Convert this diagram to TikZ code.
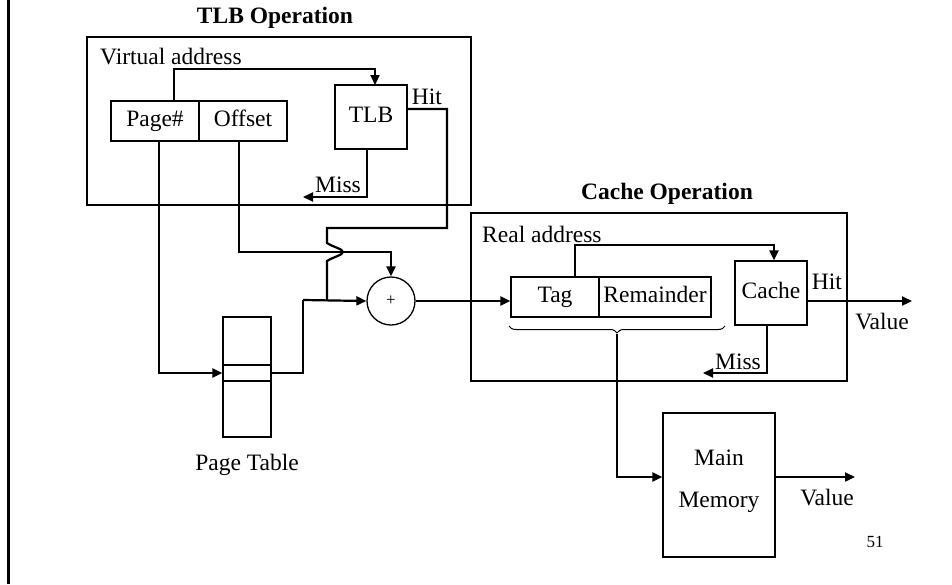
\documentclass[tikz,border=0pt]{standalone}
\usepackage{fontspec}
\setmainfont{Liberation Serif}
\usetikzlibrary{arrows.meta,decorations.pathreplacing}
\begin{document}
\begin{tikzpicture}[x=1pt,y=-1pt,
  font=\fontsize{23.5}{28}\selectfont,
  box/.style={draw, line width=1.3pt, inner sep=0pt, text height=16pt, text depth=5pt},
  conn/.style={line width=2.2pt},
  arr/.style={conn, -{Triangle[length=10pt,width=9pt]}},
  lbl/.style={inner sep=0pt},
  title/.style={inner sep=0pt, font=\fontsize{23.5}{28}\selectfont\bfseries}]
\useasboundingbox (0,0) rectangle (952,584);
\fill[white] (0,0) rectangle (952,584);

% slide edge rule
\draw[line width=3pt] (8,0) -- (8,584);

% ---------- TLB operation ----------
\node[title] (tlbtitle) at (275,18) {TLB Operation};
\node[box, minimum width=384pt, minimum height=168pt] (tlbframe) at (279,121) {};
\node[lbl, anchor=west] (valbl) at (100,57) {Virtual address};
\node[box, minimum width=88pt, minimum height=40pt] (page) at (155,121) {Page\#};
\node[box, minimum width=88pt, minimum height=40pt] (offset) at (243,121) {Offset};
\node[box, minimum width=72pt, minimum height=64pt] (tlb) at (371,117) {TLB};
\node[lbl] (tlbhit) at (427,97) {Hit};
\node[lbl] (tlbmiss) at (338,185) {Miss};

% page table
\node[box, minimum width=48pt, minimum height=120pt] (pt) at (247,377) {};
\node[box, minimum width=48pt, minimum height=16pt, text height=0pt, text depth=0pt] (ptrow) at (247,373) {};
\node[lbl] (ptlbl) at (247,465) {Page Table};

% adder
\node[draw, circle, line width=1.3pt, minimum size=48pt, inner sep=0pt,
      font=\fontsize{17}{20}\selectfont] (sum) at (391,301) {+};

% ---------- Cache operation ----------
\node[title] (cachetitle) at (667,194) {Cache Operation};
\node[box, minimum width=376pt, minimum height=168pt] (cacheframe) at (659,297) {};
\node[lbl, anchor=west] (ralbl) at (482,234) {Real address};
\node[box, minimum width=88pt, minimum height=40pt] (tag) at (555,297) {Tag};
\node[box, minimum width=112pt, minimum height=40pt] (rem) at (655,297) {Remainder};
\node[box, minimum width=72pt, minimum height=64pt] (cache) at (771,293) {Cache};
\node[lbl] (chit) at (827,282) {Hit};
\node[lbl] (cval) at (882,322) {Value};
\node[lbl] (cmiss) at (738,362) {Miss};

% main memory
\node[box, minimum width=112pt, minimum height=144pt] (mem) at (719,485) {};
\node[lbl] (memtxt1) at (719,458) {Main};
\node[lbl] (memtxt2) at (719,502) {Memory};
\node[lbl] (mval) at (827,498) {Value};
\node[lbl, font=\fontsize{17}{20}\selectfont] (pgno) at (875,542) {51};

% free ends
\coordinate (tlbmissend) at (303,197);
\coordinate (cmissend) at (703,373);
\coordinate (chitend) at (912,301);
\coordinate (mvalend) at (855,477);
\coordinate (bracetip) at (617,334);

% ---------- connectors ----------
% page number into the TLB
\draw[arr] (page.north -| 174,0) |- (375,69) -- (375,85);
% TLB miss
\draw[arr] (tlb.south -| 367,0) |- (tlbmissend);
% page number into the page table
\draw[arr] (page.south -| 159,0) |- (ptrow.west);
% offset into the adder
\draw[arr] (offset.south -| 239,0) |- (391,252) -- (sum.north);
% TLB hit, jumping over the offset line
\draw[conn] (tlb.east |- 0,109) -| (447,228) -| (327,243)
  .. controls (333,247) and (343,249) .. (343,252)
  .. controls (343,255) and (333,257) .. (327,261) -- (327,300);
% page table entry into the adder
\draw[conn] (ptrow.east) -| (303,300);
\draw[arr] (303,300) -- (sum.west);
% real address
\draw[arr] (sum.east) -- (sum.east -| tag.west);
% tag into the cache
\draw[arr] (tag.north -| 575,0) |- (774,245) -- (cache.north -| 774,0);
% cache hit / miss
\draw[arr] (cache.east |- chitend) -- (chitend);
\draw[arr] (cache.south -| 767,0) |- (cmissend);
% whole address to main memory
\draw[decorate, decoration={brace, mirror, amplitude=7pt}, line width=1pt]
  (509,326) -- (725,326);
\draw[arr] (bracetip) |- (mem.west |- mvalend);
\draw[arr] (mem.east |- mvalend) -- (mvalend);
\end{tikzpicture}
\end{document}
